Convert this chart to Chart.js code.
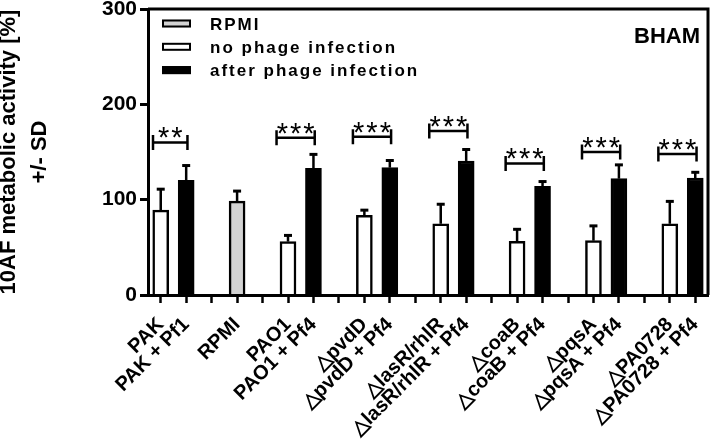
<!DOCTYPE html>
<html>
<head>
<meta charset="utf-8">
<script src="https://cdn.jsdelivr.net/npm/chart.js@4.4.1/dist/chart.umd.min.js"></script>
<style>
  body { margin: 0; background: #fff; }
</style>
</head>
<body>
<canvas id="chart" width="713" height="440"></canvas>
<script>
// categories (empty strings are the spacer slots between groups)
const categories = [
  'PAK', 'PAK + Pf1', '',
  'RPMI', '',
  'PAO1', 'PAO1 + Pf4', '',
  '\u25B3pvdD', '\u25B3pvdD + Pf4', '',
  '\u25B3lasR/rhlR', '\u25B3lasR/rhlR + Pf4', '',
  '\u25B3coaB', '\u25B3coaB + Pf4', '',
  '\u25B3pqsA', '\u25B3pqsA + Pf4', '',
  '\u25B3PA0728', '\u25B3PA0728 + Pf4'
];

const rpmi       = [null, null, null, 98.5, null, null, null, null, null, null, null, null, null, null, null, null, null, null, null, null, null, null];
const rpmiSD     = [null, null, null, 10.5, null, null, null, null, null, null, null, null, null, null, null, null, null, null, null, null, null, null];
const noPhage    = [89, null, null, null, null, 56, null, null, 83.5, null, null, 74.7, null, null, 56.4, null, null, 57, null, null, 74.7, null];
const noPhageSD  = [22, null, null, null, null, 6.5, null, null, 5.5, null, null, 20.5, null, null, 12.5, null, null, 15.5, null, null, 23.5, null];
const afterPhage   = [null, 120.3, null, null, null, null, 133, null, null, 133.6, null, null, 140.6, null, null, 114, null, null, 122, null, null, 122.7];
const afterPhageSD = [null, 15.5, null, null, null, null, 14.5, null, null, 7.5, null, null, 12, null, null, 5, null, null, 14.5, null, null, 6];

// significance brackets: from/to category index, bracket height, stars
const sigFrom  = [0, 5, 8, 11, 14, 17, 20];
const sigTo    = [1, 6, 9, 12, 15, 18, 21];
const sigLevel = [160, 165, 166, 172, 138, 150, 148];
const sigText  = ['**', '***', '***', '***', '***', '***', '***'];

const yTicks = [0, 100, 200, 300];

const FONT = "'Liberation Sans', Arial, sans-serif";
Chart.defaults.font.family = FONT;
Chart.defaults.color = '#000';

const sdByDataset = [rpmiSD, noPhageSD, afterPhageSD];

const errorBars = {
  id: 'errorBars',
  afterDatasetsDraw(chart) {
    const { ctx, scales: { y } } = chart;
    ctx.save();
    ctx.strokeStyle = '#000';
    chart.data.datasets.forEach((ds, di) => {
      chart.getDatasetMeta(di).data.forEach((bar, i) => {
        const v = ds.data[i], sd = sdByDataset[di][i];
        if (v == null || sd == null) return;
        const top = y.getPixelForValue(v + sd);
        ctx.lineWidth = 2.5;
        ctx.beginPath(); ctx.moveTo(bar.x, bar.y); ctx.lineTo(bar.x, top); ctx.stroke();
        ctx.lineWidth = 3;
        ctx.beginPath(); ctx.moveTo(bar.x - 4, top); ctx.lineTo(bar.x + 4, top); ctx.stroke();
      });
    });
    ctx.restore();
  }
};

const brackets = {
  id: 'brackets',
  afterDatasetsDraw(chart) {
    const { ctx, chartArea, scales: { x, y } } = chart;
    const step = x.getPixelForValue(1) - x.getPixelForValue(0);
    ctx.save();
    ctx.strokeStyle = '#000';
    ctx.fillStyle = '#000';
    ctx.lineWidth = 2.5;
    ctx.font = '29px ' + FONT;
    ctx.letterSpacing = '2px';
    ctx.textAlign = 'center';
    sigFrom.forEach((from, k) => {
      const x0 = Math.max(x.getPixelForValue(from) - 0.45 * step, chartArea.left + 5);
      const x1 = x.getPixelForValue(sigTo[k]) + 0.05 * step;
      const yy = y.getPixelForValue(sigLevel[k]);
      ctx.beginPath();
      ctx.moveTo(x0, yy); ctx.lineTo(x1, yy);
      ctx.moveTo(x0, yy - 7.5); ctx.lineTo(x0, yy + 7.5);
      ctx.moveTo(x1, yy - 7.5); ctx.lineTo(x1, yy + 7.5);
      ctx.stroke();
      ctx.fillText(sigText[k], (x0 + x1) / 2 + 1, yy + 5);
    });
    ctx.restore();
  }
};

// legend inside plot + frame + panel label
const extras = {
  id: 'extras',
  afterDraw(chart) {
    const { ctx, chartArea: a } = chart;
    ctx.save();
    ctx.strokeStyle = '#000';
    ctx.lineWidth = 3;
    ctx.beginPath();
    ctx.moveTo(a.left, a.top); ctx.lineTo(a.right, a.top); ctx.lineTo(a.right, a.bottom);
    ctx.stroke();

    ctx.font = 'bold 17px ' + FONT;
    ctx.letterSpacing = '2px';
    ctx.textBaseline = 'alphabetic';
    chart.data.datasets.forEach((ds, i) => {
      const base = a.top + 20.5 + i * 23.3;
      const bx = a.left + 14, cy = base - 6;
      ctx.fillStyle = ds.backgroundColor;
      ctx.fillRect(bx, cy - 4, 29, 8);
      ctx.lineWidth = 2;
      ctx.strokeRect(bx + 1, cy - 3, 27, 6);
      ctx.fillStyle = '#000';
      ctx.fillText(ds.label, a.left + 62, base);
    });

    ctx.letterSpacing = '0px';
    ctx.font = 'bold 22px ' + FONT;
    ctx.textAlign = 'right';
    ctx.fillText('BHAM', a.right - 8, a.top + 33.5);
    ctx.restore();
  }
};

const barStyle = { borderColor: '#000', borderWidth: 2.5, barThickness: 16 };

new Chart(document.getElementById('chart'), {
  type: 'bar',
  data: {
    labels: categories,
    datasets: [
      { label: 'RPMI', data: rpmi, backgroundColor: '#d3d3d3', ...barStyle },
      { label: 'no phage infection', data: noPhage, backgroundColor: '#ffffff', ...barStyle },
      { label: 'after phage infection', data: afterPhage, backgroundColor: '#000000', ...barStyle }
    ]
  },
  options: {
    responsive: false,
    animation: false,
    layout: { padding: { top: 9, right: 5, left: 0, bottom: 0 } },
    datasets: { bar: { grouped: false } },
    plugins: { legend: { display: false }, tooltip: { enabled: false } },
    scales: {
      x: {
        offset: true,
        grid: { offset: false, drawOnChartArea: false, color: '#000', tickLength: 8, tickWidth: 2.5 },
        border: { color: '#000', width: 3, z: 1 },
        ticks: { autoSkip: false, maxRotation: 45, minRotation: 45, padding: 10,
                 font: { size: 20, weight: 'bold' }, color: '#000' },
        afterFit: s => { s.height = 145; s.paddingLeft = 0; s.paddingRight = 0; }
      },
      y: {
        min: 0, max: 300,
        afterBuildTicks: s => { s.ticks = yTicks.map(v => ({ value: v })); },
        grid: { drawOnChartArea: false, color: '#000', tickLength: 8, tickWidth: 3 },
        border: { color: '#000', width: 3, z: 1 },
        ticks: { padding: 3, font: { size: 21, weight: 'bold' }, color: '#000' },
        title: {
          display: true,
          text: ['10AF metabolic activity [%]', '+/- SD'],
          font: { size: 22, weight: 'bold', lineHeight: 1.4 },
          padding: { top: -6, bottom: 0 },
          color: '#000'
        },
        afterFit: s => { s.width = 148; s.paddingTop = 0; s.paddingBottom = 0; }
      }
    }
  },
  plugins: [errorBars, brackets, extras]
});
</script>
</body>
</html>
